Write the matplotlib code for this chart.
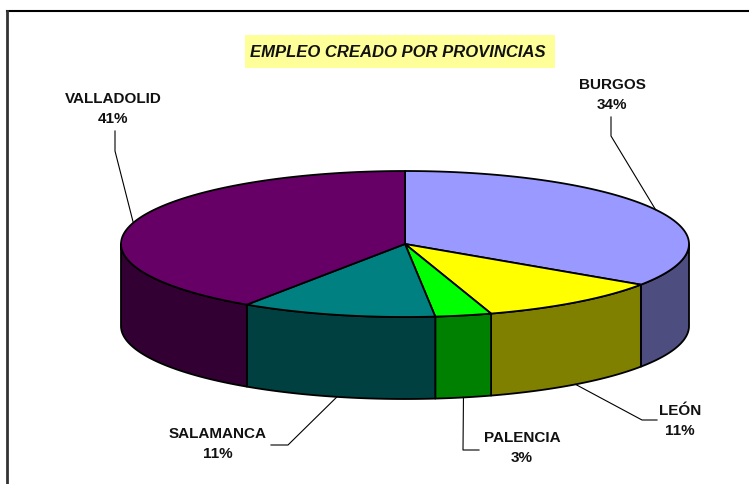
import matplotlib.pyplot as plt
import numpy as np
from matplotlib.patches import Polygon, Rectangle

plt.rcParams['font.family'] = ['Liberation Sans', 'DejaVu Sans']

# Empleo creado por provincia (% del total)
provincias = ['BURGOS', 'LEÓN', 'PALENCIA', 'SALAMANCA', 'VALLADOLID']
empleo = [34.4, 10.7, 3.2, 11.1, 40.6]
color_sup = ['#9999FF', '#FFFF00', '#00FF00', '#008080', '#660066']
color_lat = ['#4D4D80', '#808000', '#008000', '#004040', '#330033']

# geometria del pastel 3D (pixeles)
cx, cy = 405, 245
rx, ry = 284, 73
alto = 82

# posicion de cada etiqueta y codo de la linea guia
etq_pos = [(612, 95), (680, 421), (522, 448), (218, 444), (113, 109)]
codo = [[(611, 137), (611, 118)],
        [(642, 421), (657, 421)],
        [(463, 451), (479, 451)],
        [(288, 446), (271, 446)],
        [(115, 152), (115, 132)]]

fig = plt.figure(figsize=(7.49, 4.85), dpi=100)
ax = fig.add_axes([0, 0, 1, 1])
ax.set_xlim(0, 749)
ax.set_ylim(485, 0)
ax.axis('off')


def borde(th, dy=0.0):
    # th en grados, sentido horario desde las 12
    t = np.radians(th)
    return cx + rx * np.sin(t), cy - ry * np.cos(t) + dy


total = sum(empleo)
lim = np.concatenate([[0], np.cumsum(empleo) / total * 360])

# caras laterales (solo la mitad delantera, 90..270 grados)
for i in range(len(empleo)):
    a0 = max(lim[i], 90)
    a1 = min(lim[i + 1], 270)
    if a1 <= a0:
        continue
    th = np.linspace(a0, a1, 80)
    xs, ys = borde(th)
    pts = np.column_stack([np.r_[xs, xs[::-1]], np.r_[ys, ys[::-1] + alto]])
    ax.add_patch(Polygon(pts, closed=True, facecolor=color_lat[i],
                         edgecolor='black', linewidth=1.3, joinstyle='round'))

# cara superior
for i in range(len(empleo)):
    th = np.linspace(lim[i], lim[i + 1], 120)
    xs, ys = borde(th)
    pts = np.column_stack([np.r_[cx, xs], np.r_[cy, ys]])
    ax.add_patch(Polygon(pts, closed=True, facecolor=color_sup[i],
                         edgecolor='black', linewidth=1.3, joinstyle='round'))

# etiquetas con lineas guia
for i, nombre in enumerate(provincias):
    mid = (lim[i] + lim[i + 1]) / 2
    x0, y0 = borde(mid)
    if 90 < mid < 270:
        y0 += alto
    lx = [x0] + [p[0] for p in codo[i]]
    ly = [y0] + [p[1] for p in codo[i]]
    ax.plot(lx, ly, color='black', linewidth=0.8)
    pct = empleo[i] / total * 100
    ax.text(etq_pos[i][0], etq_pos[i][1], f'{nombre}\n{pct:.0f}%',
            ha='center', va='center', ma='center', fontsize=11,
            fontweight='bold', linespacing=1.55, color='#111111')

# titulo
ax.add_patch(Rectangle((245, 36), 310, 33, facecolor='#FFFF99',
                       edgecolor='none'))
ax.text(398, 52.5, 'EMPLEO CREADO POR PROVINCIAS', ha='center', va='center',
        fontsize=12, fontweight='bold', fontstyle='italic', color='#111111')

# marco del area del grafico
ax.plot([7, 749], [12, 12], color='black', linewidth=1.5)
ax.plot([7, 7], [12, 485], color='#333333', linewidth=2)

plt.savefig('out.png', dpi=100)
